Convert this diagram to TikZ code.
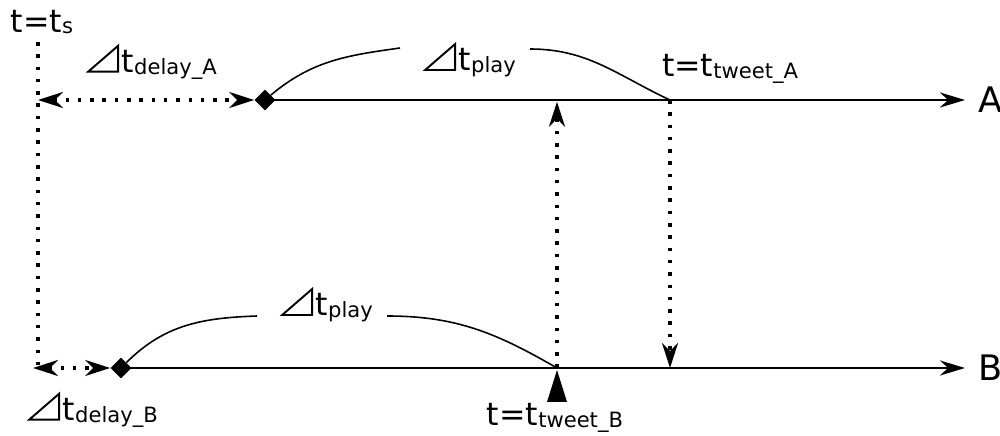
\documentclass[tikz,border=0pt]{standalone}
\usepackage{fontspec}
\setmainfont{DejaVu Sans}
\usetikzlibrary{arrows.meta,positioning,shapes.geometric}

\newcommand{\lowtext}[1]{\raisebox{-0.05em}{\fontsize{12}{12}\selectfont #1}}
\newcommand{\dtri}{\tikz[baseline=0pt]\draw[line width=1.1pt,line join=miter]
  (0,0.02) -- (0.6,0.02) -- (0.6,0.54) -- cycle;\kern1.5pt}

\begin{document}
\begin{tikzpicture}[
    font=\fontsize{18}{20}\selectfont,
    timeline/.style={line width=1.6pt,-{Stealth[length=5mm,width=3mm]}},
    dots/.style={line width=2pt,dash pattern=on 2pt off 5pt},
    gap/.style={dots,{Stealth[length=5mm,width=3.2mm]}-{Stealth[length=5mm,width=3.2mm]}},
    hop/.style={dots,-{Stealth[length=5mm,width=3.2mm]}},
    curve/.style={line width=0.9pt},
    start/.style={diamond,fill,inner sep=0pt,minimum size=0.42cm},
    axis/.style={anchor=west,inner sep=0pt,font=\fontsize{20}{22}\selectfont},
  ]
    \useasboundingbox (0,0) rectangle (20,8.72);

    % start time
    \node (ts) at (0.84,8.28) {t=t\lowtext{s}};
    \coordinate (ts-top) at (0.76,7.88);
    \coordinate (ts-bot) at (0.76,1.28);
    \draw[dots] (ts-top) -- (ts-bot);

    % the two timelines
    \node[start] (startA) at (5.3,6.72) {};
    \node[start] (startB) at (2.42,1.36) {};
    \coordinate (endA) at (19.3,6.72);
    \coordinate (endB) at (19.3,1.36);
    \draw[timeline] (startA.center) -- (endA);
    \draw[timeline] (startB.center) -- (endB);
    \node[axis] (lblA) at (19.56,6.72) {A};
    \node[axis] (lblB) at (19.56,1.36) {B};

    % delays
    \draw[gap] (ts-top |- startA) -- (startA.west);
    \draw[gap] (0.66,1.36) -- (startB.west);
    \node (delayA) at (3.04,7.48) {\dtri t\lowtext{delay\_A}};
    \node (delayB) at (1.86,0.52) {\dtri t\lowtext{delay\_B}};

    % tweets
    \coordinate (tweetA) at (13.4,6.72);
    \coordinate (tweetB) at (11.14,1.36);
    \draw[hop] (tweetA) -- (tweetA |- startB);
    \draw[hop,shorten >=1pt] (tweetB) -- (tweetB |- startA);
    \fill ([yshift=-0.04cm]tweetB) -- ++(-0.2,-0.64) -- ++(0.4,0) -- cycle;
    \node (tweetAlbl) at (14.6,7.34) {t=t\lowtext{tweet\_A}};
    \node (tweetBlbl) at (11.1,0.36) {t=t\lowtext{tweet\_B}};

    % play time
    \node (playA) at (9.4,7.52) {\dtri t\lowtext{play}};
    \node (playB) at (6.54,2.62) {\dtri t\lowtext{play}};
    \coordinate (playA-in) at (8.0,7.76);
    \coordinate (playA-out) at (10.6,7.74);
    \coordinate (playB-in) at (5.14,2.4);
    \coordinate (playB-out) at (7.74,2.4);
    \draw[curve] (startA) to[out=40,in=188] (playA-in);
    \draw[curve] (playA-out) to[out=0,in=155] (tweetA);
    \draw[curve] (startB) to[out=45,in=182] (playB-in);
    \draw[curve] (playB-out) to[out=0,in=150] (tweetB);
  \end{tikzpicture}
\end{document}
